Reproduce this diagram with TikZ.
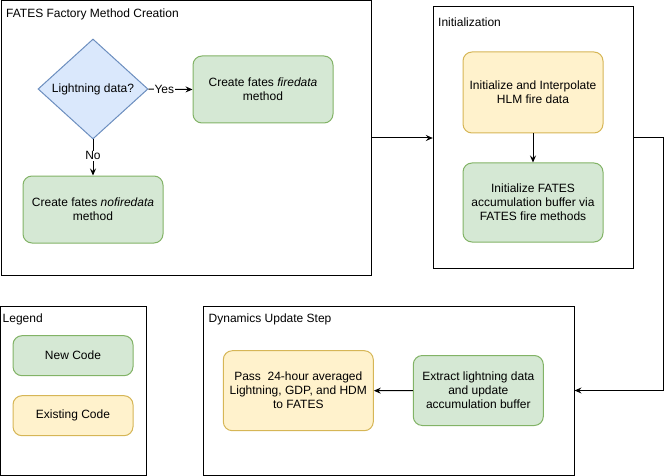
\documentclass[tikz,border=0pt]{standalone}
\usepackage{fontspec}
\setmainfont{Liberation Sans}
\usetikzlibrary{arrows.meta,shapes.geometric,calc}
\definecolor{gfill}{HTML}{D5E8D4}
\definecolor{gline}{HTML}{82B366}
\definecolor{yfill}{HTML}{FFF2CC}
\definecolor{yline}{HTML}{D6B656}
\definecolor{bfill}{HTML}{DAE8FC}
\definecolor{bline}{HTML}{6C8EBF}
\tikzset{
  every node/.style={font=\fontsize{12}{14}\selectfont, inner sep=0pt},
  group/.style={draw=black, line width=1pt, rectangle, fill=none},
  grouptitle/.style={anchor=west},
  newcode/.style={draw=gline, fill=gfill, line width=1pt, rounded corners=9pt, align=center},
  oldcode/.style={draw=yline, fill=yfill, line width=1pt, rounded corners=9pt, align=center},
  decision/.style={draw=bline, fill=bfill, line width=1pt, diamond, shape aspect=1.1, align=center},
  arr/.style={draw=black, line width=1pt, -{Stealth[length=7pt,width=6pt,inset=2.5pt]}},
  elabel/.style={fill=white, inner sep=1pt},
}
\begin{document}
\begin{tikzpicture}[x=1pt,y=-1pt]
\useasboundingbox (0,0) rectangle (672,476);
% group boxes
\node[group, minimum width=370pt, minimum height=274pt] (fac) at (186,138) {};
\node[grouptitle] (factitle) at (6,14) {FATES Factory Method Creation};
\node[group, minimum width=200pt, minimum height=261pt] (init) at (533.3,137.5) {};
\node[grouptitle] (inittitle) at (438,22) {Initialization};
\node[group, minimum width=146pt, minimum height=169pt] (leg) at (73.5,390.5) {};
\node[grouptitle] (legtitle) at (2.5,319) {Legend};
\node[group, minimum width=370.7pt, minimum height=169pt] (dyn) at (388.7,390.5) {};
\node[grouptitle] (dyntitle) at (208.5,319) {Dynamics Update Step};
% factory
\node[decision, minimum width=110pt, minimum height=100pt] (q) at (93,89) {};
\node (qtext) at (93,89) {Lightning data?};
\node[newcode, minimum width=140pt, minimum height=67pt] (fire) at (263,89.5) {Create fates \textit{firedata}\\method};
\node[newcode, minimum width=140pt, minimum height=67pt] (nofire) at (93,209.5) {Create fates \textit{nofiredata}\\method};
\draw[arr] (q.east) -- node[elabel, pos=0.36] {Yes} (fire.west);
\draw[arr] (q.south) -- node[elabel, pos=0.45] {No} (nofire.north);
% initialization
\node[oldcode, minimum width=140pt, minimum height=81pt] (interp) at (533,92.5) {Initialize and Interpolate\\HLM fire data};
\node[newcode, minimum width=140pt, minimum height=79pt] (buf) at (533,202.5) {Initialize FATES\\accumulation buffer via\\FATES fire methods};
\draw[arr] (interp.south) -- (buf.north);
% legend
\node[newcode, minimum width=120pt, minimum height=40pt] (newc) at (73,355.7) {New Code};
\node[oldcode, minimum width=120pt, minimum height=40pt] (oldc) at (73,415.7) {Existing Code};
% dynamics
\node[oldcode, minimum width=150pt, minimum height=80pt] (pass) at (298.3,390.7) {Pass~ 24-hour averaged\\Lightning, GDP, and HDM\\to FATES};
\node[newcode, minimum width=130pt, minimum height=70pt] (extract) at (478.3,390.5) {Extract lightning data\\and update\\accumulation buffer};
\draw[arr] (extract.west) -- (pass.east);
% group connectors
\draw[arr] (fac.east) -- (fac.east -| init.west);
\coordinate (turn) at (663,137.5);
\draw[arr] (init.east) -- (turn) |- (dyn.east);
\end{tikzpicture}
\end{document}
